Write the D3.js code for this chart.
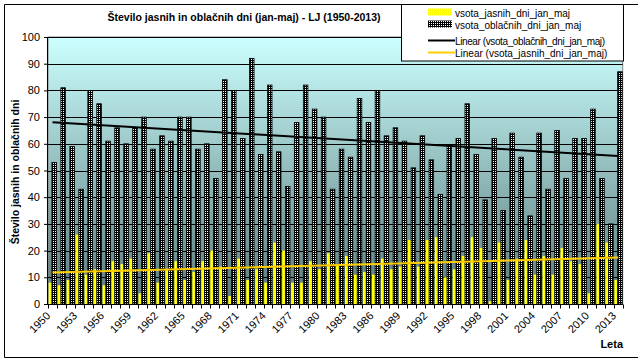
<!DOCTYPE html>
<html>
<head>
<meta charset="utf-8">
<script src="https://cdn.jsdelivr.net/npm/d3@7"></script>
<style>
  body { margin: 0; background: #fff; }
  text { font-family: "Liberation Sans", Arial, sans-serif; }
</style>
</head>
<body>
<div id="vis"></div>
<script>
// leta 1950-2013, vrednosti odčitane s slike
let years = d3.range(1950, 2014)
let jasni = [8, 7, 9, 26, 11, 13, 7, 16, 15, 17, 4, 19, 8, 13, 16, 9,
             12, 16, 20, 14, 3, 17, 9, 13, 8, 23, 20, 8, 8, 16, 13, 19,
             15, 18, 11, 12, 11, 17, 13, 14, 24, 14, 24, 25, 10, 13, 18, 25,
             21, 1, 23, 9, 17, 24, 11, 18, 11, 21, 16, 15, 4, 30, 23, 9]
let oblacni = [53, 81, 59, 43, 80, 75, 61, 66, 60, 66, 70, 58, 63, 61, 70, 70,
               58, 60, 47, 84, 80, 62, 92, 56, 82, 57, 44, 68, 82, 73, 70, 43,
               58, 55, 77, 68, 80, 63, 66, 61, 51, 63, 54, 41, 59, 62, 75, 56,
               39, 62, 35, 64, 55, 33, 64, 43, 65, 47, 62, 62, 73, 47, 30, 87]
let yTicks = d3.range(0, 101, 10)
let labelYears = years.filter((d, i) => i % 3 === 0)
let legendItems = ["vsota_jasnih_dni_jan_maj", "vsota_oblačnih_dni_jan_maj",
                   "Linear (vsota_oblačnih_dni_jan_maj)", "Linear (vsota_jasnih_dni_jan_maj)"]

let svg = d3.select("#vis").append("svg")
            .attr("width", 638)
            .attr("height", 362)

let defs = svg.append("defs")
let grad = defs.append("linearGradient").attr("id", "bg")
    .attr("x1", 0).attr("y1", 0).attr("x2", 0).attr("y2", 1)
grad.append("stop").attr("offset", 0).attr("stop-color", "#CCFFFF")
grad.append("stop").attr("offset", 1).attr("stop-color", "#5A7979")

let pd = defs.append("pattern").attr("id", "dark")
    .attr("width", 2).attr("height", 2).attr("patternUnits", "userSpaceOnUse")
pd.append("rect").attr("width", 2).attr("height", 2).attr("fill", "#000")
pd.append("rect").attr("x", 1).attr("y", 1).attr("width", 1).attr("height", 1).attr("fill", "#fff")

let py = defs.append("pattern").attr("id", "yel")
    .attr("width", 2).attr("height", 2).attr("patternUnits", "userSpaceOnUse")
py.append("rect").attr("width", 2).attr("height", 2).attr("fill", "#FFFF00")
py.append("rect").attr("x", 1).attr("y", 1).attr("width", 1).attr("height", 1).attr("fill", "#fff")

let x = d3.scaleBand().domain(years).range([48, 622.7])
let y = d3.scaleLinear().domain([0, 100]).range([304, 37])
let step = x.step()

// outer border
svg.append("path")
   .attr("d", "M 640 4.5 H 4.5 V 357.5 H 640")
   .attr("fill", "none").attr("stroke", "#000")

svg.append("rect")
   .attr("x", 48).attr("y", 37)
   .attr("width", 622.7 - 48).attr("height", 304 - 37)
   .attr("fill", "url(#bg)")
   .attr("stroke", "#808080")

svg.append("g").selectAll("line")
   .data(yTicks)
   .join("line")
   .attr("x1", 48).attr("x2", 622.7)
   .attr("y1", d => Math.round(y(d)) + 0.5).attr("y2", d => Math.round(y(d)) + 0.5)
   .attr("stroke", "#000")

svg.append("g").selectAll("rect")
   .data(years)
   .join("rect")
   .attr("x", d => x(d) + 0.7)
   .attr("width", 3.2)
   .attr("y", (d, i) => y(jasni[i]))
   .attr("height", (d, i) => y(0) - y(jasni[i]))
   .attr("fill", "url(#yel)")

svg.append("g").selectAll("rect")
   .data(years)
   .join("rect")
   .attr("x", d => x(d) + 3.9)
   .attr("width", 4.6)
   .attr("y", (d, i) => y(oblacni[i]))
   .attr("height", (d, i) => y(0) - y(oblacni[i]))
   .attr("fill", "url(#dark)")
   .attr("stroke", "#000")
   .attr("stroke-width", 0.8)

// linear trend (least squares, like Excel)
function trend(vals) {
    let n = vals.length
    let mx = d3.mean(vals, (v, i) => i)
    let my = d3.mean(vals)
    let b = d3.sum(vals, (v, i) => (i - mx) * (v - my)) / d3.sum(vals, (v, i) => (i - mx) * (i - mx))
    let a = my - b * mx
    return [[0, a], [n - 1, a + b * (n - 1)]]
}
let line = d3.line()
    .x(d => x(years[d[0]]) + step / 2)
    .y(d => y(d[1]))

svg.append("path").attr("d", line(trend(oblacni)))
   .attr("stroke", "#000").attr("stroke-width", 2).attr("fill", "none")
svg.append("path").attr("d", line(trend(jasni)))
   .attr("stroke", "#FFCC00").attr("stroke-width", 2).attr("fill", "none")

// axes
svg.append("g")
   .attr("transform", "translate(48,0)")
   .call(d3.axisLeft(y).tickValues(yTicks).tickSize(4).tickPadding(4))
   .call(g => g.select(".domain").attr("d", "M-0.5,304V37"))
   .call(g => g.selectAll("text").attr("font-size", 11).attr("font-family", "Liberation Sans, Arial").attr("fill", "#000"))

let xa = svg.append("g").attr("transform", "translate(0,304.5)")
xa.append("line").attr("x1", 48).attr("x2", 622.7).attr("stroke", "#000")
xa.selectAll(".tk")
  .data(years.concat([2014]))
  .join("line")
  .attr("class", "tk")
  .attr("x1", d => Math.round(d === 2014 ? 622.7 : x(d)) + 0.5)
  .attr("x2", d => Math.round(d === 2014 ? 622.7 : x(d)) + 0.5)
  .attr("y1", 0).attr("y2", 4)
  .attr("stroke", "#000")
xa.selectAll("text")
  .data(labelYears)
  .join("text")
  .attr("text-anchor", "end")
  .attr("transform", d => `translate(${x(d) + 3},${12}) rotate(-45)`)
  .attr("font-size", 11)
  .text(d => d)

svg.append("text")
   .attr("x", 244).attr("y", 21)
   .attr("text-anchor", "middle")
   .attr("font-size", 10.5).attr("font-weight", "bold")
   .text("Število jasnih in oblačnih dni (jan-maj) - LJ (1950-2013)")

svg.append("text")
   .attr("transform", "translate(19,172) rotate(-90)")
   .attr("text-anchor", "middle")
   .attr("font-size", 10.5).attr("font-weight", "bold")
   .text("Število jasnih in oblačnih dni")

svg.append("text")
   .attr("x", 623).attr("y", 348)
   .attr("text-anchor", "end")
   .attr("font-size", 11).attr("font-weight", "bold")
   .text("Leta")

// legend
let lg = svg.append("g")
lg.append("rect")
  .attr("x", 401.5).attr("y", 4.5).attr("width", 222).attr("height", 56.5)
  .attr("fill", "#fff").attr("stroke", "#000")
let rowsY = [12.5, 24.5, 40.5, 52.5]
lg.append("rect").attr("x", 428).attr("y", rowsY[0] - 4).attr("width", 24).attr("height", 7).attr("fill", "url(#yel)")
lg.append("rect").attr("x", 428).attr("y", rowsY[1] - 4).attr("width", 24).attr("height", 7).attr("fill", "url(#dark)")
lg.append("line").attr("x1", 428).attr("x2", 455).attr("y1", rowsY[2]).attr("y2", rowsY[2])
  .attr("stroke", "#000").attr("stroke-width", 2)
lg.append("line").attr("x1", 428).attr("x2", 455).attr("y1", rowsY[3]).attr("y2", rowsY[3])
  .attr("stroke", "#FFCC00").attr("stroke-width", 2)
lg.selectAll(".lt")
  .data(legendItems)
  .join("text")
  .attr("class", "lt")
  .attr("x", 455)
  .attr("y", (d, i) => rowsY[i] + 4)
  .attr("font-size", 10)
  .attr("textLength", (d, i) => i === 2 ? 150 : null)
  .text(d => d)
</script>
</body>
</html>
